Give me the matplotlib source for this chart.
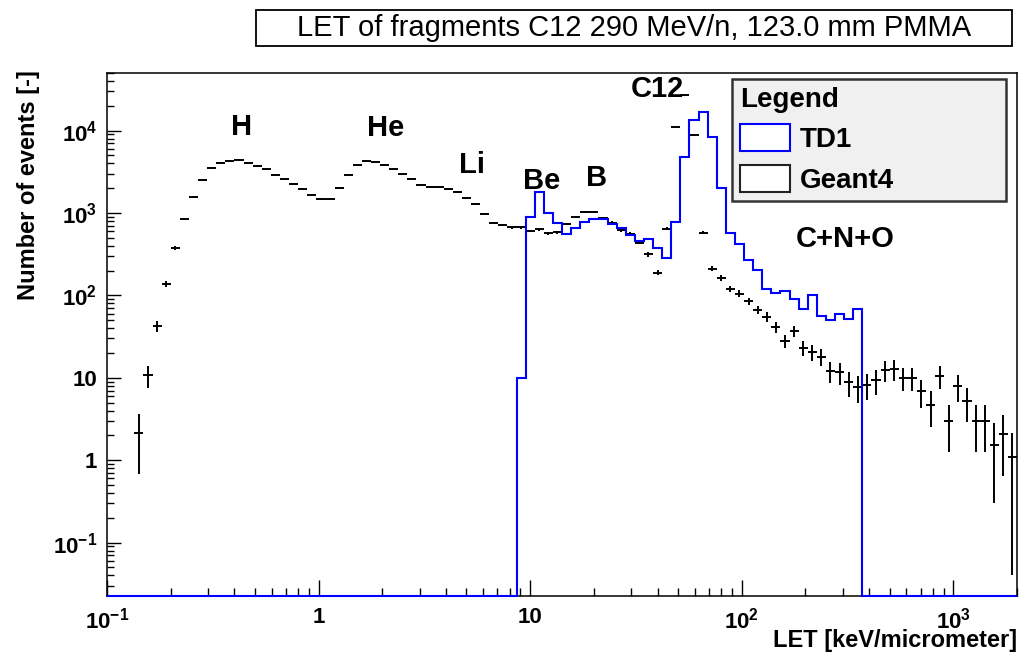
import numpy as np
import matplotlib
matplotlib.use("Agg")
import matplotlib.pyplot as plt
from matplotlib.patches import Patch, Rectangle
from matplotlib.ticker import LogLocator, FuncFormatter, NullFormatter

# ---------------- data ----------------
XMIN, XMAX, NBINS = 0.1, 2000.0, 100   # histogram binning (log bins)

geant4 = [
    0, 0, 0, 2.14, 10.7, 42.5, 139, 378, 851, 1585,
    2550, 3530, 4090, 4330, 4450, 4060, 3730, 3400, 2930, 2570,
    2260, 1945, 1660, 1470, 1470, 2020, 2930, 3840, 4330, 4210,
    3870, 3400, 2990, 2620, 2210, 2090, 2055, 1960, 1790, 1530,
    1290, 977, 760, 715, 673, 673, 605, 635, 569, 585,
    735, 895, 1020, 1020, 870, 765, 614, 560, 437, 314,
    189, 643, 11100, 27200, 8800, 575, 211, 163, 120, 105,
    85, 67, 55, 41, 28, 37, 23, 20.3, 18, 12.1,
    11.6, 8.9, 7.7, 8.2, 9.3, 12.4, 12.7, 10.0, 10.0, 6.9,
    4.7, 10.5, 3.0, 7.9, 5.2, 3.0, 3.0, 1.55, 2.08, 1.08,
]

td1 = [
    0, 0, 0, 0, 0, 0, 0, 0, 0, 0,
    0, 0, 0, 0, 0, 0, 0, 0, 0, 0,
    0, 0, 0, 0, 0, 0, 0, 0, 0, 0,
    0, 0, 0, 0, 0, 0, 0, 0, 0, 0,
    0, 0, 0, 0, 0, 10, 900, 1820, 995, 753,
    555, 655, 767, 834, 840, 740, 665, 540, 455, 480,
    375, 281, 774, 4750, 13300, 16800, 8400, 2000, 572, 423,
    271, 205, 120, 108, 112, 91, 69, 100, 57, 50,
    59, 52, 69, 0, 0, 0, 0, 0, 0, 0,
    0, 0, 0, 0, 0, 0, 0, 0, 0, 0,
]

fragment_labels = ["H", "He", "Li", "Be", "B", "C12", "C+N+O"]
series_names = ["TD1", "Geant4"]
title = "LET of fragments C12 290 MeV/n, 123.0 mm PMMA"
xlabel = "LET [keV/micrometer]"
ylabel = "Number of events [-]"

# ---------------- style ----------------
plt.rcParams["font.family"] = ["Liberation Sans", "DejaVu Sans"]
plt.rcParams["font.weight"] = "bold"
plt.rcParams["mathtext.fontset"] = "custom"
plt.rcParams["mathtext.rm"] = "Liberation Sans:bold"
plt.rcParams["mathtext.it"] = "Liberation Sans:bold"
plt.rcParams["mathtext.bf"] = "Liberation Sans:bold"
plt.rcParams["mathtext.sf"] = "Liberation Sans:bold"

W, H = 1019, 658
fig = plt.figure(figsize=(W / 100, H / 100), dpi=100)
fig.patch.set_facecolor("white")
ax = fig.add_axes([107 / W, 1 - 596 / H, 910 / W, 523 / H])

YMIN, YMAX = 0.0225, 5.0e4
edges = np.logspace(np.log10(XMIN), np.log10(XMAX), NBINS + 1)
centers = np.sqrt(edges[:-1] * edges[1:])

g4 = np.array(geant4, dtype=float)
t1 = np.array(td1, dtype=float)

# TD1 histogram (blue step line); empty bins sit on the frame bottom
t1_draw = np.where(t1 > 0, t1, YMIN)
ax.stairs(t1_draw, edges, baseline=None, color="#0000ff", linewidth=1.5,
          zorder=4, clip_on=False)

# Geant4 points with error bars
m = g4 > 0
xerr = np.vstack([centers[m] - edges[:-1][m], edges[1:][m] - centers[m]])
yerr = np.sqrt(g4[m])
ax.errorbar(centers[m], g4[m], xerr=xerr, yerr=yerr, fmt="none",
            ecolor="black", elinewidth=1.4, capsize=0, zorder=3)

ax.set_xscale("log")
ax.set_yscale("log")
ax.set_xlim(XMIN, XMAX)
ax.set_ylim(YMIN, YMAX)

def fmt_log(v, pos):
    e = int(round(np.log10(v)))
    if e == 0:
        return "1"
    if e == 1:
        return "10"
    return r"$10^{%d}$" % e

ax.xaxis.set_major_locator(LogLocator(base=10, numticks=20))
ax.xaxis.set_minor_locator(LogLocator(base=10, subs=np.arange(2, 10), numticks=20))
ax.yaxis.set_major_locator(LogLocator(base=10, numticks=20))
ax.yaxis.set_minor_locator(LogLocator(base=10, subs=np.arange(2, 10), numticks=20))
ax.xaxis.set_major_formatter(FuncFormatter(fmt_log))
ax.yaxis.set_major_formatter(FuncFormatter(fmt_log))
ax.xaxis.set_minor_formatter(NullFormatter())
ax.yaxis.set_minor_formatter(NullFormatter())

ax.tick_params(which="both", direction="in", top=False, right=False,
               width=1.0, colors="black", labelsize=16)
ax.tick_params(axis="x", which="major", length=11.5, pad=8)
ax.tick_params(axis="x", which="minor", length=5.5)
ax.tick_params(axis="y", which="major", length=10, pad=7)
ax.tick_params(axis="y", which="minor", length=5)

for s in ax.spines.values():
    s.set_linewidth(1.1)
    s.set_color("black")
    s.set_zorder(2)

ax.set_xlabel(xlabel, fontsize=17, fontweight="bold", loc="right")
ax.xaxis.set_label_coords(1.0, -0.064)
ax.set_ylabel(ylabel, fontsize=17, fontweight="bold", loc="top")
ax.yaxis.set_label_coords(-0.074, 1.006)

# fragment annotations (axes fraction, left/baseline)
label_pos = [(0.1363, 0.8815), (0.2854, 0.8795), (0.3868, 0.8082),
             (0.4568, 0.7782), (0.5264, 0.7830), (0.5758, 0.9535),
             (0.7571, 0.6679)]
for txt, (fx, fy) in zip(fragment_labels, label_pos):
    ax.text(fx, fy, txt, transform=ax.transAxes, ha="left", va="baseline",
            fontsize=21, fontweight="bold", color="black", zorder=5)

# legend
handles = [Patch(facecolor="white", edgecolor="#0000ff", linewidth=1.5),
           Patch(facecolor="white", edgecolor="#222222", linewidth=1.5)]
leg = ax.legend(handles, series_names, title="Legend", loc="upper left",
                bbox_to_anchor=(0.687, 0.7514, 0.301, 0.2371), mode="expand",
                borderaxespad=0, fontsize=20, alignment="left",
                title_fontproperties={"weight": "bold", "size": 20},
                handlelength=1.8, handleheight=1.1, handletextpad=0.35,
                labelspacing=0.42, borderpad=0.28, fancybox=False,
                framealpha=1.0)
leg.get_frame().set_facecolor("#f0f0f0")
leg.get_frame().set_edgecolor("#333333")
leg.get_frame().set_linewidth(1.8)
leg.set_zorder(6)

# title box
fig.patches.append(Rectangle((256 / W, 1 - 46 / H), 756 / W, 36 / H,
                             transform=fig.transFigure, facecolor="white",
                             edgecolor="black", linewidth=1.3))
fig.text(634 / W, 1 - 28 / H, title, ha="center", va="center",
         fontsize=21, fontweight="normal", color="black")

fig.savefig("out.png", dpi=100)
